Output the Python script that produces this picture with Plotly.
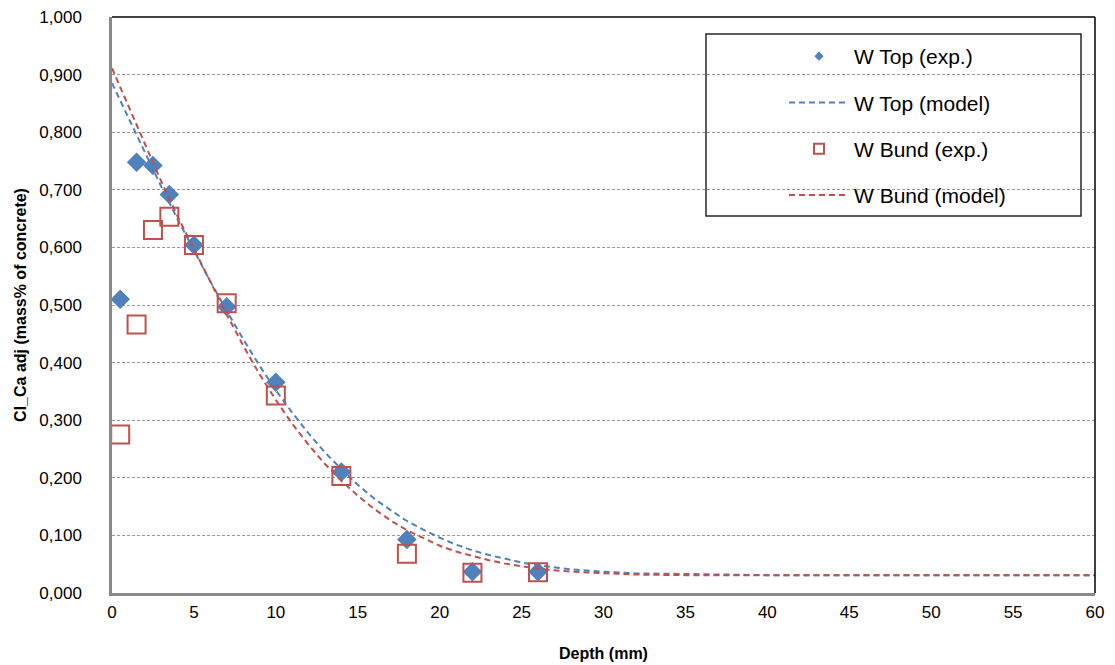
import plotly.graph_objects as go

# ---- data ----
depth_exp = [0.5, 1.5, 2.5, 3.5, 5, 7, 10, 14, 18, 22, 26]
top_exp = [0.510, 0.748, 0.742, 0.692, 0.604, 0.497, 0.366, 0.210, 0.093, 0.037, 0.037]
bund_exp = [0.275, 0.466, 0.630, 0.653, 0.604, 0.503, 0.343, 0.203, 0.068, 0.035, 0.036]

depth_model = [0, 1, 2, 3, 4, 5, 6, 7, 8, 9, 10, 11, 12, 13, 14, 15, 16, 17, 18, 19, 20,
               21, 22, 23, 24, 25, 26, 28, 30, 32, 35, 40, 45, 50, 55, 60]
top_model = [0.885, 0.825, 0.765, 0.706, 0.649, 0.595, 0.541, 0.490, 0.441, 0.395, 0.352,
             0.313, 0.277, 0.244, 0.215, 0.188, 0.164, 0.144, 0.125, 0.110, 0.096,
             0.084, 0.074, 0.066, 0.059, 0.053, 0.048, 0.041, 0.037, 0.034, 0.033,
             0.031, 0.031, 0.031, 0.031, 0.031]
bund_model = [0.911, 0.845, 0.779, 0.715, 0.654, 0.597, 0.539, 0.484, 0.430, 0.380, 0.335,
              0.294, 0.257, 0.224, 0.195, 0.169, 0.146, 0.126, 0.109, 0.095, 0.082,
              0.072, 0.064, 0.057, 0.051, 0.046, 0.042, 0.037, 0.034, 0.032, 0.031,
              0.031, 0.031, 0.031, 0.031, 0.031]

names = ["W Top (exp.)", "W Top (model)", "W Bund (exp.)", "W Bund (model)"]
x_ticks = list(range(0, 61, 5))
y_ticks = [i / 10 for i in range(11)]

BLUE = "#4F81BD"
RED = "#C0504D"
FONT = "Liberation Sans, Arial, sans-serif"

W, H = 1115, 665
ML, MR, MT, MB = 112, 20, 17, 72
PW, PH = W - ML - MR, H - MT - MB


def px_x(p):
    return (p - ML) / PW


def px_y(p):
    return (H - MB - p) / PH


fig = go.Figure()

# data traces (not in legend)
fig.add_trace(go.Scatter(x=depth_exp, y=top_exp, mode="markers", showlegend=False,
                         marker=dict(symbol="diamond", size=15, color=BLUE,
                                     line=dict(width=0))))
fig.add_trace(go.Scatter(x=depth_model, y=top_model, mode="lines", showlegend=False,
                         line=dict(color=BLUE, width=2, dash="6px,4px")))
fig.add_trace(go.Scatter(x=depth_exp, y=bund_exp, mode="markers", showlegend=False,
                         marker=dict(symbol="square-open", size=18, color=RED,
                                     line=dict(width=2, color=RED))))
fig.add_trace(go.Scatter(x=depth_model, y=bund_model, mode="lines", showlegend=False,
                         line=dict(color=RED, width=2, dash="6px,4px")))

# legend entries
fig.add_trace(go.Scatter(x=[None], y=[None], mode="markers", name=names[0], legendgroup="a",
                         marker=dict(symbol="diamond", size=7, color=BLUE)))
fig.add_trace(go.Scatter(x=[None], y=[None], mode="lines", name=names[1], legendgroup="b",
                         line=dict(color=BLUE, width=2, dash="6px,4px")))
fig.add_trace(go.Scatter(x=[None], y=[None], mode="markers", name=names[2], legendgroup="c",
                         marker=dict(symbol="square-open", size=10, color=RED,
                                     line=dict(width=2, color=RED))))
fig.add_trace(go.Scatter(x=[None], y=[None], mode="lines", name=names[3], legendgroup="d",
                         line=dict(color=RED, width=2, dash="6px,4px")))

fig.update_layout(
    width=W, height=H,
    margin=dict(l=ML, r=MR, t=MT, b=MB, autoexpand=False),
    paper_bgcolor="white", plot_bgcolor="white",
    font=dict(family=FONT, size=17, color="black"),
    separators=",.",
    legend=dict(x=px_x(784), y=px_y(36), xanchor="left", yanchor="top",
                bgcolor="rgba(0,0,0,0)", borderwidth=0,
                font=dict(size=21, family=FONT),
                traceorder="grouped", tracegroupgap=16, itemwidth=60),
    shapes=[
        # legend frame
        dict(type="rect", xref="paper", yref="paper",
             x0=px_x(706), x1=px_x(1081), y0=px_y(216), y1=px_y(34),
             line=dict(color="#262626", width=1.5), fillcolor="rgba(0,0,0,0)", layer="below"),
        # top and right frame
        dict(type="line", xref="paper", yref="paper", x0=0, x1=1, y0=1, y1=1,
             line=dict(color="black", width=1.5)),
        dict(type="line", xref="paper", yref="paper", x0=1, x1=1, y0=0, y1=1,
             line=dict(color="black", width=1.5)),
    ],
)

fig.update_xaxes(range=[0, 60], tickvals=x_ticks, ticktext=[str(v) for v in x_ticks],
                 showgrid=False, zeroline=False, ticks="", ticklabelstandoff=2,
                 showline=True, linecolor="#8A8A8A", linewidth=2.5,
                 tickfont=dict(size=17),
                 title=dict(text="<b>Depth (mm)</b>", font=dict(size=16), standoff=27))
fig.update_yaxes(range=[0, 1.0], tickvals=y_ticks, tickformat=".3f",
                 showgrid=True, gridcolor="#9A9A9A", gridwidth=1, griddash="3px,2px",
                 zeroline=False, ticks="", ticklabelstandoff=24,
                 showline=True, linecolor="#8A8A8A", linewidth=2.5,
                 tickfont=dict(size=17),
                 title=dict(text="<b>Cl_Ca adj (mass% of concrete)</b>", font=dict(size=16),
                            standoff=9))

fig.write_html("out.html", config={"displayModeBar": False},
               post_script="document.body.style.margin='0';document.body.style.padding='0';")
